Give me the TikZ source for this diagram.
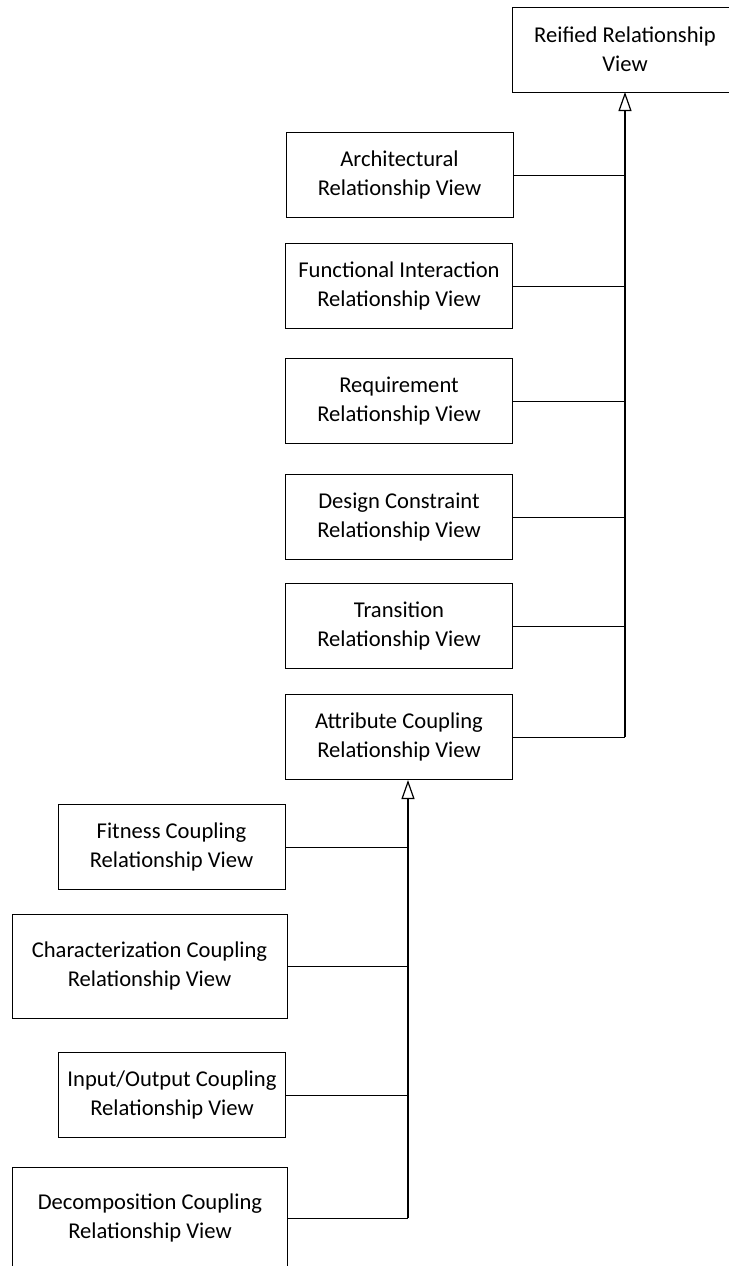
\documentclass[tikz,border=0pt]{standalone}
\usepackage{fontspec}
\setmainfont{Carlito}
\usetikzlibrary{arrows.meta}

\begin{document}
\begin{tikzpicture}
  [x=0.5pt,y=-0.5pt,every node/.style={draw,rectangle,align=center,font=\fontsize{11.3}{14.5}\selectfont,minimum width=113.5pt,minimum height=42.5pt,inner sep=2pt}]
  \tikzstyle{wide} = [minimum width=137.5pt,minimum height=52pt]
  \tikzstyle{gen} = [-{Triangle[open,length=9.5pt,width=6.5pt]},line width=0.6pt]
  \useasboundingbox (0,0) rectangle (729,1266);
  \node (reified) at (634,49.5) [minimum width=122pt] {\hspace*{-9pt}Reified Relationship\\\hspace*{-9pt}View};
  \node (arch) at (399.5,175) {Architectural\\Relationship View};
  \node (func) at (399,286) {Functional Interaction\\Relationship View};
  \node (req) at (399,401) {Requirement\\Relationship View};
  \node (design) at (399,517) {Design Constraint\\Relationship View};
  \node (trans) at (399,626) {Transition\\Relationship View};
  \node (attr) at (399,737) {Attribute Coupling\\Relationship View};
  \node (fitness) at (171.5,847) {Fitness Coupling\\Relationship View};
  \node (charz) at (149.5,966) [wide] {Characterization Coupling\\Relationship View};
  \node (io) at (172,1095) {Input/Output Coupling\\Relationship View};
  \node (decomp) at (150,1218) [wide,minimum height=51pt] {Decomposition Coupling\\Relationship View};
  \coordinate (ctop) at (625,92);
  \coordinate (cbus) at (408,780);
  \coordinate (ctopend) at (attr.east -| ctop);
  \coordinate (cbusend) at (decomp.east -| cbus);

  \draw[gen] (ctopend) -- (ctop);
  \foreach \src in {arch,func,req,design,trans,attr}
    \draw (\src.east) -- (\src.east -| ctop);
  \draw[gen] (cbusend) -- (cbus);
  \foreach \src in {fitness,charz,io,decomp}
    \draw (\src.east) -- (\src.east -| cbus);
\end{tikzpicture}
\end{document}
